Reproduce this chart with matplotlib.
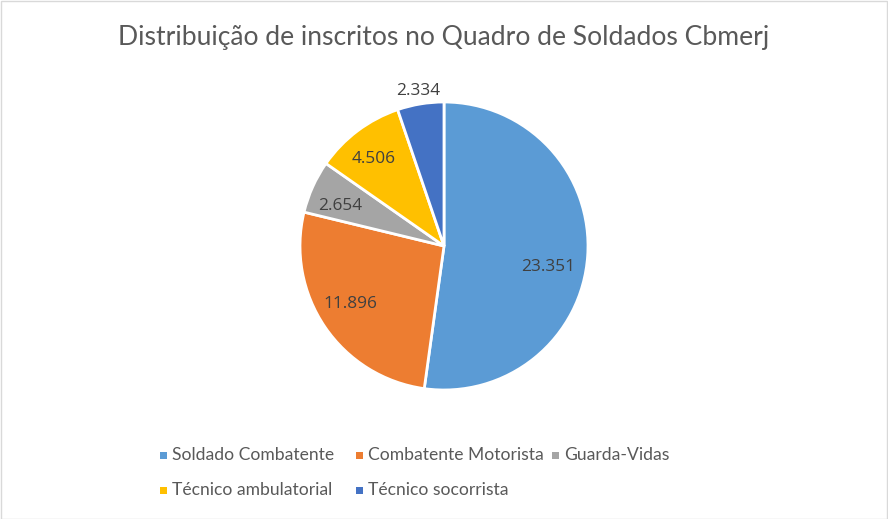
import matplotlib.pyplot as plt
import numpy as np
from matplotlib.patches import Rectangle

# data
categories = ["Soldado Combatente", "Combatente Motorista", "Guarda-Vidas",
              "Técnico ambulatorial", "Técnico socorrista"]
values = [23351, 11896, 2654, 4506, 2334]
value_labels = ["23.351", "11.896", "2.654", "4.506", "2.334"]
colors = ["#5B9BD5", "#ED7D31", "#A5A5A5", "#FFC000", "#4472C4"]

# label placement (radial distance, angle nudge in degrees), like Excel's best fit
label_dist = [0.734, 0.755, 0.78, 0.786, 1.105]
label_nudge = [-6.5, -3.5, 2.4, 1.3, 0.0]

FONT = ["Lato", "DejaVu Sans"]
plt.rcParams["font.family"] = FONT

W, H = 888, 519
fig = plt.figure(figsize=(W / 100, H / 100), dpi=100)

# outer border
fig.patches.append(Rectangle((0.5 / W, 0.5 / H), 1 - 1.5 / W, 1 - 1.5 / H,
                             transform=fig.transFigure, fill=False,
                             edgecolor="#D9D9D9", linewidth=1))

fig.text(444 / W, 1 - 38 / H, "Distribuição de inscritos no Quadro de Soldados Cbmerj",
         ha="center", va="center", fontsize=19.1, color="#595959")

# pie axes: center (444, 246), radius 144 px
r = 144
ext = 1.25
side = 2 * r * ext
ax = fig.add_axes([(444 - side / 2) / W, (H - 246 - side / 2) / H, side / W, side / H])
wedges, _ = ax.pie(values, colors=colors, startangle=90, counterclock=False,
                   wedgeprops=dict(edgecolor="white", linewidth=2))
ax.set_xlim(-ext, ext)
ax.set_ylim(-ext, ext)
ax.set_aspect("equal")

# data labels
total = float(sum(values))
start = 90.0
for i, v in enumerate(values):
    span = 360.0 * v / total
    mid = np.deg2rad(start - span / 2 + label_nudge[i])
    start -= span
    d = label_dist[i]
    ax.text(d * np.cos(mid), d * np.sin(mid), value_labels[i],
            ha="center", va="center_baseline", fontsize=12.4, color="#404040",
            family=["Open Sans", "DejaVu Sans"])

# legend
col_x = [163, 359, 555]
row_y = [455, 490]
for i, name in enumerate(categories):
    x = col_x[i % 3]
    y = row_y[i // 3]
    fig.patches.append(Rectangle(((x - 3.5) / W, (H - y - 3.5) / H), 7 / W, 7 / H,
                                 transform=fig.transFigure, facecolor=colors[i],
                                 edgecolor="none"))
    fig.text((x + 9) / W, 1 - y / H, name, ha="left", va="center",
             fontsize=12.6, color="#595959")

plt.savefig("out.png", dpi=100)
